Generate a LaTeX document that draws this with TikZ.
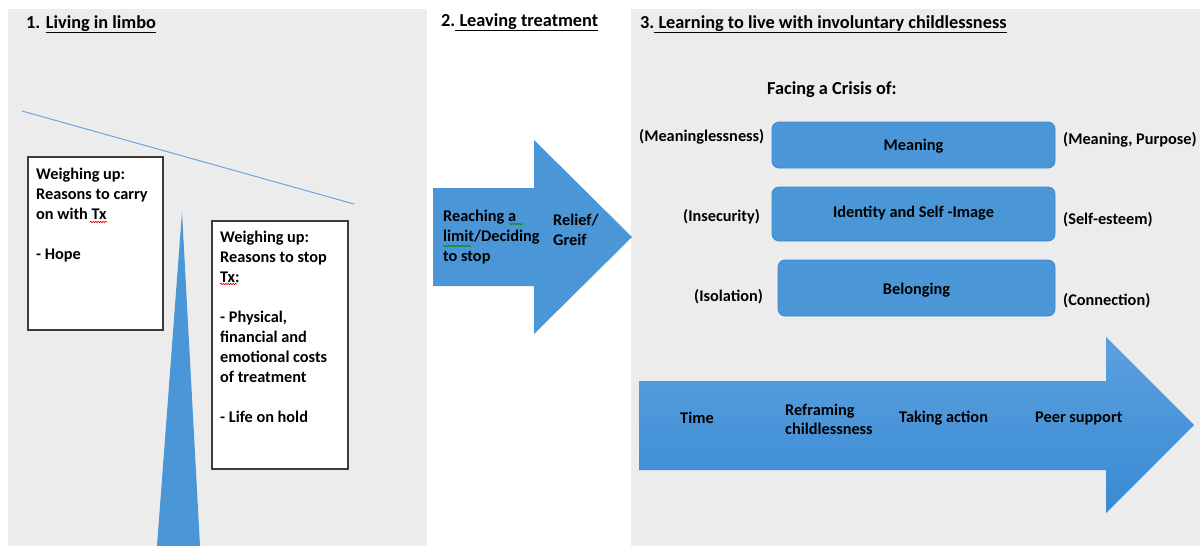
\documentclass[tikz,border=0pt]{standalone}
\usepackage{fontspec}
\setmainfont{Carlito}
\usetikzlibrary{decorations.pathmorphing}
\definecolor{panelgray}{RGB}{236,236,236}
\definecolor{mblue}{RGB}{74,150,214}
\definecolor{mblueedge}{RGB}{66,135,200}
\definecolor{lineblue}{RGB}{110,165,222}
\definecolor{boxedge}{RGB}{60,60,60}
\tikzset{
  txt/.style={font=\bfseries\fontsize{16.3}{20}\selectfont, inner sep=0pt, text=black},
  title/.style={font=\bfseries\fontsize{18.3}{22}\selectfont, inner sep=0pt, text=black},
  wbox/.style={draw=boxedge, line width=1.2pt, fill=white, minimum width=#1, inner sep=0pt},
  bluebox/.style={draw=mblueedge, line width=0.8pt, fill=mblue, rounded corners=7pt, inner sep=0pt},
  redsq/.style={draw=red!80!black, line width=0.6pt, decorate, decoration={snake, amplitude=0.7pt, segment length=2.5pt}},
  greensq/.style={draw=green!55!black, line width=0.6pt, decorate, decoration={snake, amplitude=0.7pt, segment length=2.5pt}},
}
\begin{document}
\begin{tikzpicture}[x=1pt,y=-1pt]
\useasboundingbox (0,0) rectangle (1200,546);
\fill[white] (0,0) rectangle (1200,546);
% panels
\fill[panelgray] (8,9) rectangle (427,546);
\fill[panelgray] (631,9) rectangle (1200,546);

% ---------- Panel 1 ----------
\node[title, anchor=base west] (t1) at (26,28) {1. \underline{Living in limbo}};
\coordinate (lineA) at (22,111);
\coordinate (lineB) at (354,204);
\draw[lineblue, line width=1pt] (lineA) -- (lineB);
% fulcrum triangle
\coordinate (apex) at (182,212);
\coordinate (baseL) at (157,546);
\coordinate (baseR) at (200,546);
\fill[mblue] (apex) -- (baseR) -- (baseL) -- cycle;
% box 1
\node[wbox=135pt, minimum height=173pt] (box1) at (95.5,243.5) {};
\node[txt, anchor=north west, align=left] (box1txt) at (36,167.5)
  {Weighing up:\\Reasons to carry\\on with Tx\\[20pt]- Hope};
\draw[redsq] (90,222) -- (107,222);
% box 2
\node[wbox=136pt, minimum height=248pt] (box2) at (280,345) {};
\node[txt, anchor=north west, align=left] (box2txt) at (220,230.5)
  {Weighing up:\\Reasons to stop\\Tx:\\[20pt]- Physical,\\financial and\\emotional costs\\of treatment\\[20pt]- Life on hold};
\draw[redsq] (220,284) -- (237,284);

% ---------- Panel 2 ----------
\node[title, anchor=base west] (t2) at (441,26) {2.\underline{ Leaving treatment}};
\fill[mblue] (433,188) -- (534,188) -- (534,140) -- (632,237) -- (534,334) -- (534,286) -- (433,286) -- cycle;
\node[txt, anchor=west, align=left] (reach) at (443,237) {Reaching a\\limit/Deciding\\to stop};
\node[txt, anchor=west, align=left] (relief) at (553,230) {Relief/\\Greif};
\draw[greensq] (509,224) -- (523,224);
\draw[greensq] (443,246) -- (471,246);

% ---------- Panel 3 ----------
\node[title, anchor=base west] (t3) at (640,28) {3.\underline{ Learning to live with involuntary childlessness}};
\node[title, anchor=west] (facing) at (767,90) {Facing a Crisis of:};

\node[bluebox, minimum width=283pt, minimum height=46pt] (meaning) at (913.5,145) {};
\node[txt] (meaningtxt) at (913.5,146) {Meaning};
\node[bluebox, minimum width=283pt, minimum height=54pt] (identity) at (913.5,214) {};
\node[txt] (identitytxt) at (913.5,213) {Identity and Self -Image};
\node[bluebox, minimum width=277pt, minimum height=56pt] (belonging) at (916.5,288) {};
\node[txt] (belongingtxt) at (916.5,290) {Belonging};

\node[txt, anchor=west] (mless) at (639,137) {(Meaninglessness)};
\node[txt, anchor=west] (mpurp) at (1063,140) {(Meaning, Purpose)};
\node[txt, anchor=west] (insec) at (683,217) {(Insecurity)};
\node[txt, anchor=west] (selfe) at (1063,220) {(Self-esteem)};
\node[txt, anchor=west] (isol) at (694,297) {(Isolation)};
\node[txt, anchor=west] (conn) at (1063,301) {(Connection)};

% big arrow
\shade[top color={rgb,255:red,92;green,160;blue,222}, bottom color={rgb,255:red,56;green,138;blue,212}]
  (639,381) -- (1106,381) -- (1106,337) -- (1194,425) -- (1106,513) -- (1106,470) -- (639,470) -- cycle;
\node[txt] (time) at (697,418) {Time};
\node[txt, anchor=west, align=left, font=\bfseries\fontsize{16.3}{19}\selectfont] (refr) at (785,419.5) {Reframing\\childlessness};
\node[txt, anchor=west] (taking) at (899,418) {Taking action};
\node[txt, anchor=west] (peer) at (1035,418) {Peer support};
\end{tikzpicture}
\end{document}
